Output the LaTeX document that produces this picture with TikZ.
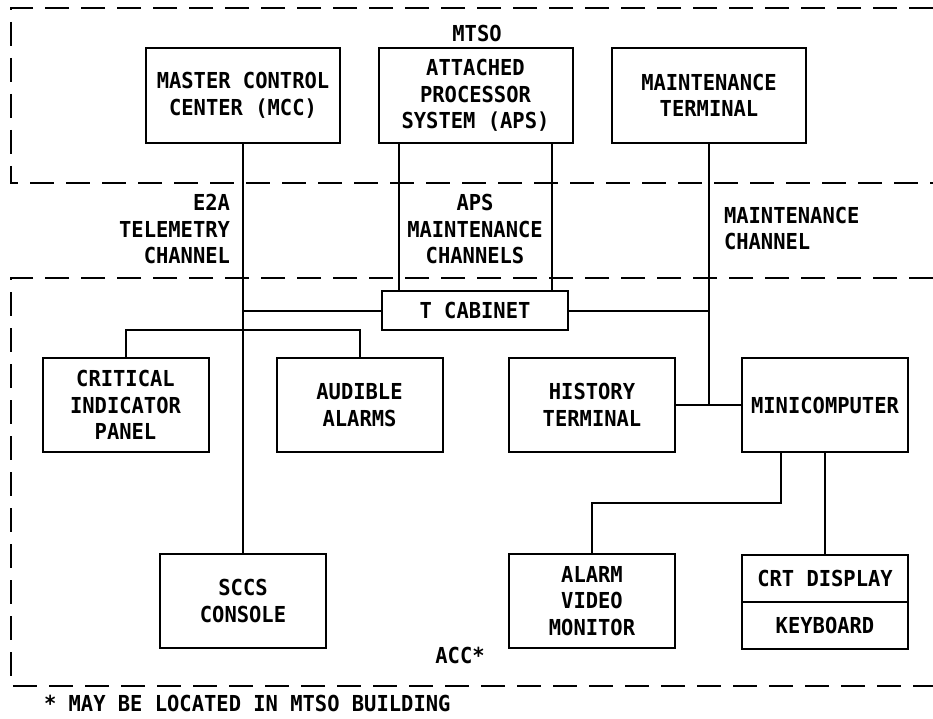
\documentclass[tikz,border=0pt]{standalone}
\usepackage{fontspec}
\newfontfamily\bellfont[FakeStretch=0.93]{DejaVu Sans Mono Bold}
\usetikzlibrary{positioning}

\begin{document}
\begin{tikzpicture}[x=1pt, y=-1pt, line width=2pt,
    font=\bellfont\fontsize{22}{26.5}\selectfont,
    unit/.style={draw, align=center, inner sep=0pt, minimum width=166pt, minimum height=94pt},
    wideunit/.style={unit, minimum width=194pt, minimum height=95pt},
    zone/.style={dash pattern=on 24pt off 12pt},
    lbl/.style={align=center, inner sep=0pt}]
    \fill[white] (0,0) rectangle (933,719);
    \useasboundingbox (0,0) rectangle (933,719);
    % the two buildings, open on the right
    \draw[zone] (933,8) -- (11,8) -- (11,183) -- (933,183);
    \draw[zone] (933,278) -- (11,278) -- (11,686) -- (933,686);
    \node[lbl] (mtso) at (477,33) {MTSO};
    \node[lbl] (acc) at (460,655) {ACC*};
    \node[lbl, anchor=west] (note) at (43,703) {* MAY BE LOCATED IN MTSO BUILDING};

    % MTSO units
    \node[wideunit] (mcc)   at (243,95.5) {MASTER CONTROL\\CENTER (MCC)};
    \node[wideunit] (aps)   at (475.5,95.5) {ATTACHED\\PROCESSOR\\SYSTEM (APS)};
    \node[wideunit] (mterm) at (709,95.5) {MAINTENANCE\\TERMINAL};

    % ACC units
    \node[unit, minimum width=186pt, minimum height=39pt] (tcab) at (475,310.5) {T CABINET};
    \node[unit] (crit)  at (125.5,405) {CRITICAL\\INDICATOR\\PANEL};
    \node[unit] (aud)   at (359.5,405) {AUDIBLE\\ALARMS};
    \node[unit] (sccs)  at (243,601)   {SCCS\\CONSOLE};
    \node[unit] (hist)  at (592,405)   {HISTORY\\TERMINAL};
    \node[unit] (mini)  at (825,405)   {MINICOMPUTER};
    \node[unit] (alarm) at (592,601)   {ALARM\\VIDEO\\MONITOR};
    \node[unit, minimum height=47pt] (crt) at (825,578.5) {CRT DISPLAY};
    \node[unit, minimum height=47pt, below=-2pt of crt] (kbd) {KEYBOARD};

    % channel labels
    \node[lbl, align=right, anchor=east] (e2a) at (231,229) {E2A\\TELEMETRY\\CHANNEL};
    \node[lbl] (apsch) at (475,229) {APS\\MAINTENANCE\\CHANNELS};
    \node[lbl, align=left, anchor=west] (mch) at (723,228.5) {MAINTENANCE\\CHANNEL};

    \coordinate (bus) at (0,330);
    \coordinate (split) at (0,503);

    % telemetry channel and its branches
    \draw (mcc) -- (sccs);
    \draw (tcab.west) -- (tcab.west -| mcc.south);
    \draw (crit.north) -- (crit.north |- bus) -- (aud.north |- bus) -- (aud.north);
    % APS maintenance channels
    \foreach \dx in {-76.5,76.5}
      \draw ([xshift=\dx pt]aps.south) -- ([xshift=\dx pt]aps.south |- tcab.north);
    % maintenance channel
    \draw (mterm.south) -- (mterm.south |- mini.west);
    \draw (tcab.east) -- (tcab.east -| mterm.south);
    \draw (hist.east) -- (mini.west);
    \draw ([xshift=-44pt]mini.south) |- (split -| alarm.north) -- (alarm.north);
    \draw (mini.south) -- (crt.north);
\end{tikzpicture}
\end{document}
